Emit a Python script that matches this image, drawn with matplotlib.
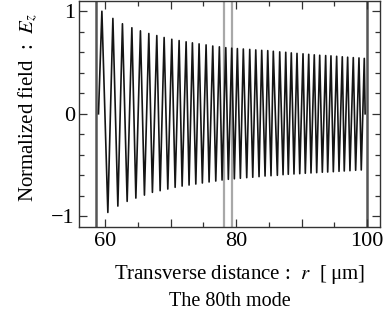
import matplotlib
matplotlib.use("Agg")
import matplotlib.pyplot as plt
import numpy as np
from matplotlib.ticker import MultipleLocator, FixedLocator, FixedFormatter

plt.rcParams['font.family'] = ['Liberation Serif', 'DejaVu Serif']
plt.rcParams['mathtext.fontset'] = 'stix'

# field extrema (r in um, normalized E_z)
start_r, end_r = 58.98, 99.72
peak_r = [59.50, 61.18, 62.64, 64.08, 65.39, 66.67, 67.89, 69.01, 70.18, 71.30,
          72.37, 73.33, 74.35, 75.42, 76.44, 77.45, 78.43, 79.34, 80.20, 81.11,
          82.09, 83.01, 83.92, 84.84, 85.69, 86.67, 87.59, 88.44, 89.31, 90.23,
          91.10, 91.95, 92.78, 93.69, 94.50, 95.37, 96.23, 97.05, 97.91, 98.78,
          99.59]
peak_E = [1.000, 0.930, 0.878, 0.839, 0.809, 0.783, 0.763, 0.744, 0.727, 0.714,
          0.702, 0.692, 0.682, 0.672, 0.661, 0.653, 0.645, 0.640, 0.636, 0.632,
          0.628, 0.623, 0.619, 0.616, 0.610, 0.604, 0.600, 0.594, 0.589, 0.585,
          0.580, 0.575, 0.571, 0.568, 0.565, 0.561, 0.556, 0.552, 0.548, 0.545,
          0.540]
trough_r = [60.41, 61.94, 63.36, 64.69, 66.00, 67.22, 68.40, 69.57, 70.69, 71.76,
            72.82, 73.85, 74.85, 75.88, 76.90, 77.86, 78.82, 79.74, 80.66, 81.63,
            82.55, 83.51, 84.43, 85.34, 86.31, 87.18, 87.98, 88.85, 89.73, 90.58,
            91.45, 92.32, 93.18, 94.00, 94.86, 95.73, 96.53, 97.40, 98.27, 99.13]
trough_E = [-0.962, -0.900, -0.854, -0.822, -0.793, -0.766, -0.750, -0.734, -0.717, -0.705,
            -0.695, -0.685, -0.675, -0.665, -0.656, -0.646, -0.639, -0.634, -0.629, -0.623,
            -0.619, -0.613, -0.607, -0.604, -0.600, -0.594, -0.590, -0.587, -0.584, -0.580,
            -0.577, -0.574, -0.570, -0.568, -0.565, -0.561, -0.558, -0.555, -0.551, -0.548]

dark_lines = [58.63, 100.0]
light_lines = [78.12, 79.43]
xtick_labels = ["60", "", "80", "", "100"]

# interleave peaks and troughs into one trace
r = [start_r]
E = [0.0]
for i in range(len(peak_r)):
    r.append(peak_r[i]); E.append(peak_E[i])
    if i < len(trough_r):
        r.append(trough_r[i]); E.append(trough_E[i])
r.append(end_r); E.append(0.0)

fig = plt.figure(figsize=(3.91, 3.27), dpi=100)
ax = fig.add_axes([0.202, 0.307, 0.770, 0.690])

for xv in dark_lines:
    ax.axvline(xv, color='#555555', lw=1.8, zorder=1)
for xv in light_lines:
    ax.axvline(xv, color='#a8a8a8', lw=1.6, zorder=1)

ax.plot(r, E, color='#151515', lw=1.2, zorder=2)

ax.set_xlim(56, 102)
ax.set_ylim(-1.1, 1.1)

ax.xaxis.set_major_locator(FixedLocator([60, 70, 80, 90, 100]))
ax.xaxis.set_major_formatter(FixedFormatter(xtick_labels))
ax.xaxis.set_minor_locator(MultipleLocator(5))
ax.set_yticks([-1, 0, 1])
ax.set_yticklabels(["\u22121", "0", "1"])
ax.yaxis.set_minor_locator(MultipleLocator(0.2))

ax.tick_params(which='both', direction='in', top=True, right=True, width=0.9, color='#333333')
ax.tick_params(which='major', length=6)
ax.tick_params(which='minor', length=3.5)
ax.tick_params(axis='x', which='major', labelsize=16, pad=4)
ax.tick_params(axis='y', which='major', labelsize=16, pad=3)
for sp in ax.spines.values():
    sp.set_linewidth(1.0)
    sp.set_color('#333333')

ax.set_xlabel('Transverse distance :  $r$  [\u2009\u03bcm]', fontsize=15)
ax.xaxis.set_label_coords(0.535, -0.16)
ax.set_ylabel(r'Normalized field  :  $E_z$', fontsize=15)
ax.yaxis.set_label_coords(-0.128, 0.53)

fig.text(0.587, 0.064, 'The 80th mode', ha='center', va='baseline', fontsize=14.5)

fig.savefig('out.png', dpi=100)
